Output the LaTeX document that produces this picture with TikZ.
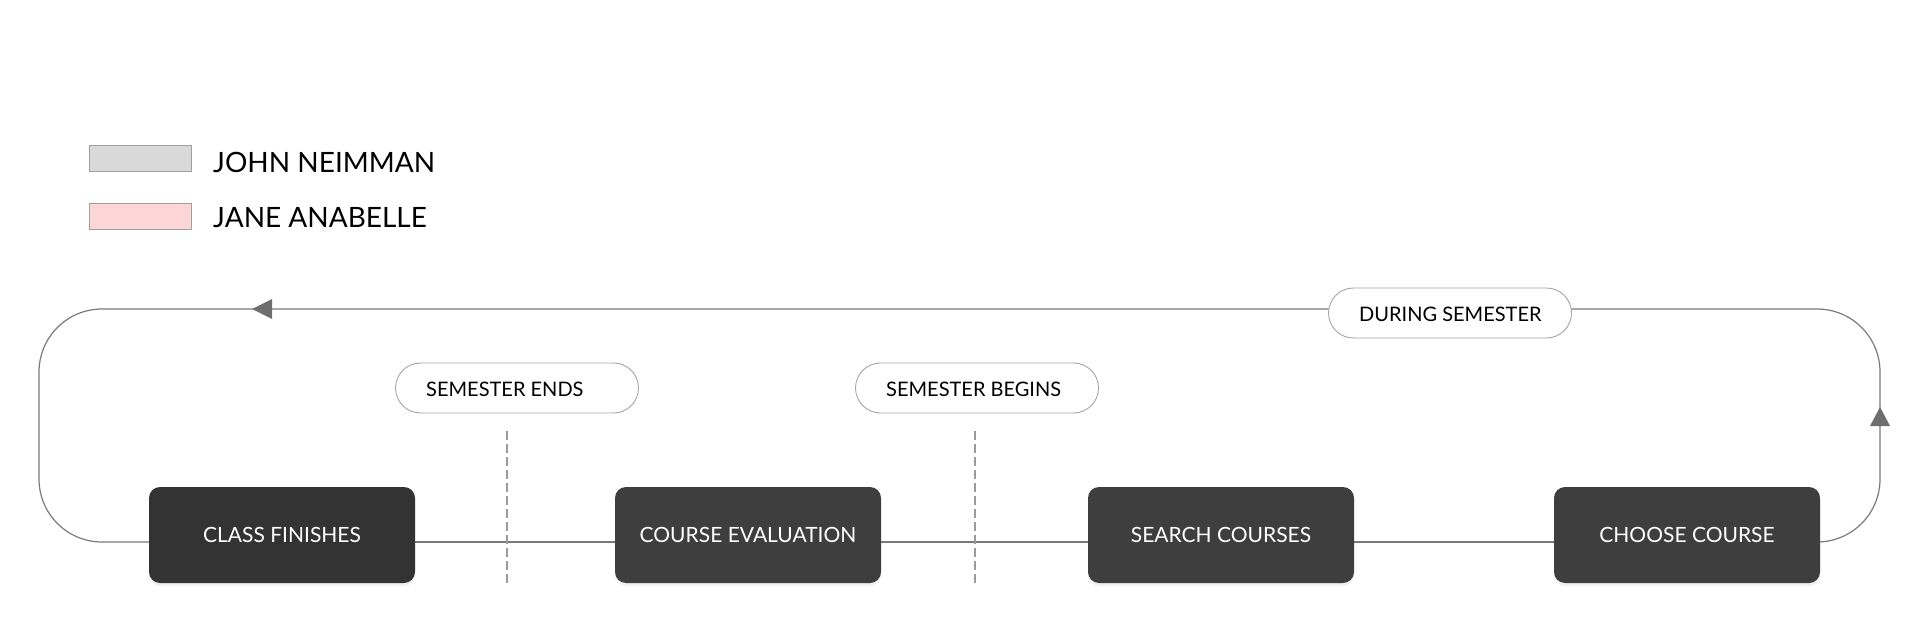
\documentclass[tikz,border=0pt]{standalone}
\usepackage{fontspec}
\setmainfont{Lato}
\usetikzlibrary{shadows,arrows.meta}
\definecolor{boxA}{HTML}{333333}
\definecolor{boxB}{HTML}{3E3E3E}
\definecolor{loopc}{HTML}{7A7A7A}
\definecolor{dashc}{HTML}{9A9A9A}
\definecolor{legg}{HTML}{D9D9D9}
\definecolor{legp}{HTML}{FCD5D7}
\definecolor{legb}{HTML}{A0A0A0}
\definecolor{pillb}{HTML}{A5A5A5}
\tikzset{
  stepbox/.style={draw=none, fill=boxB, rounded corners=11pt, minimum width=266pt, minimum height=96pt,
    text=white, font=\fontsize{21}{24}\selectfont, inner sep=0pt,
    drop shadow={opacity=0.12, shadow xshift=0pt, shadow yshift=-3pt}},
  pill/.style={draw=pillb, line width=0.9pt, fill=white, rounded corners=25pt, minimum width=243pt, minimum height=50pt, inner sep=0pt},
  pilltext/.style={anchor=west, inner sep=0pt, font=\fontsize{20}{24}\selectfont, text=black},
  legbox/.style={draw=legb, line width=1pt, minimum width=102pt, minimum height=26pt, inner sep=0pt},
  legtext/.style={anchor=west, inner sep=0pt, font=\fontsize{28}{32}\selectfont, text=black},
  loop/.style={draw=loopc, line width=1.2pt},
  sep/.style={draw=dashc, line width=2.6pt, dash pattern=on 8.5pt off 4.5pt},
  tip/.style={fill=loopc!90!black, draw=none}
}
\begin{document}
\begin{tikzpicture}[x=1pt,y=-1pt]
\useasboundingbox (0,0) rectangle (1914,628);
% legend
\node[legbox, fill=legg] (lg1) at (140,159) {};
\node[legbox, fill=legp] (lg2) at (140,217) {};
\node[legtext] (lt1) at (213,162) {JOHN NEIMMAN};
\node[legtext] (lt2) at (213,218) {JANE ANABELLE};
% loop coordinates
\coordinate (tl) at (39,309);
\coordinate (tr) at (1880,309);
\coordinate (bl) at (39,542);
\coordinate (br) at (1880,542);
% boxes (positions)
\coordinate (c1) at (282,535);
\coordinate (c2) at (748,535);
\coordinate (c3) at (1221,535);
\coordinate (c4) at (1687,535);
% top and sides of loop
\coordinate (e1) at (149,542);
\coordinate (e4) at (1820,542);
\draw[loop, rounded corners=63pt] (e1) -- (bl) -- (tl) -- (tr) -- (br) -- (e4);
\draw[loop] (e1) -- (e4);
% dashed separators
\coordinate (d1a) at (507,431); \coordinate (d1b) at (507,584);
\coordinate (d2a) at (975,431); \coordinate (d2b) at (975,584);
\draw[sep] (d1a) -- (d1b);
\draw[sep] (d2a) -- (d2b);
% arrow heads
\fill[tip] (252,309) -- (272,299) -- (272,319) -- cycle;
\fill[tip] (1880,407) -- (1870,426) -- (1890,426) -- cycle;
% step boxes
\node[stepbox, fill=boxA] (b1) at (c1) {CLASS FINISHES};
\node[stepbox] (b2) at (c2) {COURSE EVALUATION};
\node[stepbox] (b3) at (c3) {SEARCH COURSES};
\node[stepbox] (b4) at (c4) {CHOOSE COURSE};
% pills
\node[pill] (p1) at (517,388) {};
\node[pilltext] (pt1) at (426,389) {SEMESTER ENDS};
\node[pill] (p2) at (977,388) {};
\node[pilltext] (pt2) at (886,389) {SEMESTER BEGINS};
\node[pill] (p3) at (1450,313) {};
\node[pilltext] (pt3) at (1359,314) {DURING SEMESTER};
\end{tikzpicture}
\end{document}
